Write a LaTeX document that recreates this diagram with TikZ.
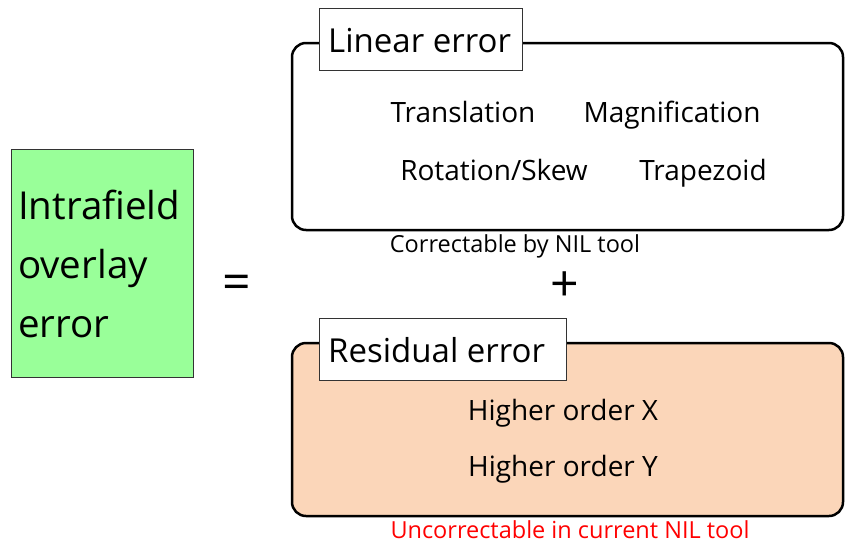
\documentclass[tikz,border=0pt]{standalone}
\usepackage{fontspec}
\setmainfont{Open Sans}
\definecolor{lgreen}{HTML}{99FF99}
\definecolor{peach}{HTML}{FBD6B9}
\begin{document}
\begin{tikzpicture}[x=1pt,y=-1pt,
  panel/.style={draw=black,line width=2.5pt,rounded corners=14pt},
  tagbox/.style={draw=black!80,fill=white,line width=0.8pt,inner sep=0pt,anchor=north west},
  item/.style={font=\fontsize{28}{30}\selectfont,inner sep=0pt,anchor=base},
  note/.style={font=\fontsize{23.5}{26}\selectfont,inner sep=0pt,anchor=base},
  bigsym/.style={font=\fontsize{50}{54}\selectfont,inner sep=0pt}]
\useasboundingbox (0,0) rectangle (846,544);
% left box
\node[draw=black!80,fill=lgreen,line width=0.8pt,minimum width=182pt,minimum height=228pt,anchor=north west,inner sep=0pt] (total) at (11,149) {};
\node[anchor=west,align=left,inner sep=0pt,font=\fontsize{38.5}{59}\selectfont] (totaltxt) at (18,264) {Intrafield\\overlay\\error};
\node[bigsym] (eq) at (237,287) {=};
% linear panel
\draw[panel] (292,43) rectangle (843,230);
\node[tagbox,minimum width=203pt,minimum height=62pt] (lin) at (319,8) {};
\node[anchor=base west,inner sep=0pt,font=\fontsize{33}{36}\selectfont] (lintxt) at (328,52) {Linear error};
\node[item] (tr) at (463,122) {Translation};
\node[item] (mag) at (672,122) {Magnification};
\node[item] (rot) at (494,180) {Rotation/Skew};
\node[item] (trap) at (703,180) {Trapezoid};
\node[note] (corr) at (515,252) {Correctable by NIL tool};
\node[bigsym] (plus) at (565,287) {+};
% residual panel
\draw[panel,fill=peach] (292,343) rectangle (843,516);
\node[tagbox,minimum width=247pt,minimum height=62pt] (res) at (319,318) {};
\node[anchor=base west,inner sep=0pt,font=\fontsize{33}{36}\selectfont] (restxt) at (328,362) {Residual error};
\node[item] (hx) at (563,420) {Higher order X};
\node[item] (hy) at (563,476) {Higher order Y};
\node[note,text=red] (unc) at (570,538) {Uncorrectable in current NIL tool};
\end{tikzpicture}
\end{document}
